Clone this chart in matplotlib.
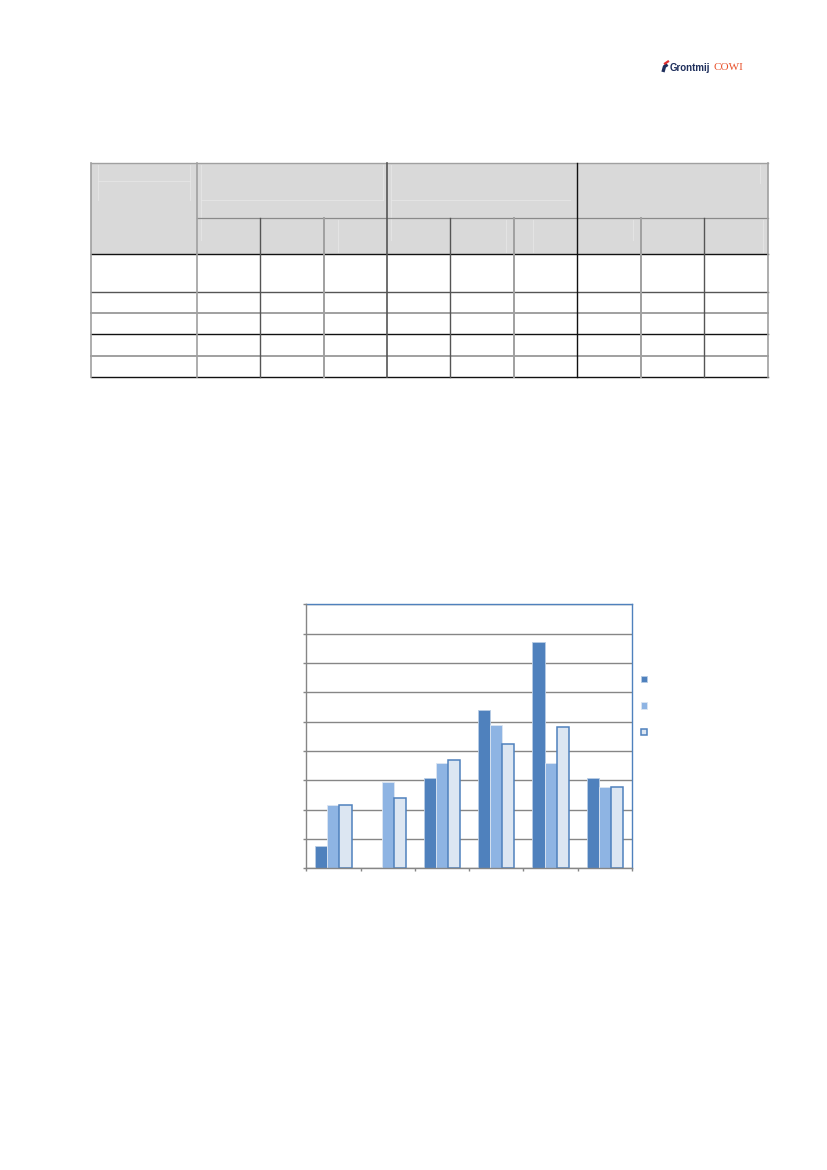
import numpy as np
import matplotlib
matplotlib.use("Agg")
import matplotlib.pyplot as plt
from matplotlib.patches import Rectangle, Patch

# chart values (in gridline units)
groups = [1, 2, 3, 4, 5, 6]
series_a = [0.75, 0.0, 3.07, 5.39, 7.71, 3.07]
series_b = [2.16, 2.94, 3.60, 4.89, 3.60, 2.76]
series_c = [2.15, 2.39, 3.68, 4.23, 4.81, 2.76]

# empty table grid on the page (pixel positions)
col_edges = [91, 196.7, 260.3, 323.7, 387.3, 450.3, 514, 577.3, 641, 704.3, 768]
row_edges = [162.7, 217.7, 254.3, 291.7, 312.7, 334.3, 355.7, 377.3]

W, H = 827, 1170
fig = plt.figure(figsize=(W / 100, H / 100), dpi=100)
fig.patch.set_facecolor("white")

page = fig.add_axes([0, 0, 1, 1])
page.set_xlim(0, W)
page.set_ylim(H, 0)
page.axis("off")

# logo
page.text(670, 68, "Grontmij", fontsize=7, fontweight="bold", color="#1f2f5c",
          family="Liberation Sans", va="center", ha="left")
page.text(713, 68, "COWI", fontsize=8, color="#e8502a",
          family="Liberation Serif", va="center", ha="left")
page.plot([663, 664.5, 667.5], [72, 66.5, 64.5], color="#1f2f5c", lw=2.4, solid_capstyle="butt")
page.plot([665, 668], [63.5, 61.5], color="#e03030", lw=1.6)

# table header fill
x0, x1 = col_edges[0], col_edges[-1]
page.add_patch(Rectangle((x0, row_edges[0]), x1 - x0, row_edges[2] - row_edges[0],
                         facecolor="#d9d9d9", edgecolor="none"))
# faint ghost lines in header
ghost = "#e6e6e6"
for (xa, xb, y) in [(98, 190, 181), (201, 383, 200), (391, 570, 200)]:
    page.plot([xa, xb], [y, y], color=ghost, lw=0.6)
for (x, ya, yb) in [(98, 165, 200), (190, 165, 200), (201, 165, 240), (383, 165, 200),
                    (391, 165, 240), (506, 220, 252), (533, 220, 252), (633, 220, 240),
                    (760, 165, 183), (763, 220, 252), (338, 220, 252)]:
    page.plot([x, x], [ya, yb], color=ghost, lw=0.6)

grey = "#a0a0a0"
dark = "#555555"
black = "#111111"

# horizontal rules
page.plot([x0, x1], [row_edges[0], row_edges[0]], color=grey, lw=1.0)
page.plot([col_edges[1], x1], [row_edges[1], row_edges[1]], color="#8a8a8a", lw=0.9)
h_styles = [(black, 1.0), (dark, 1.0), (grey, 1.4), (black, 1.0), (grey, 1.4), (black, 1.0)]
for y, (c, w) in zip(row_edges[2:], h_styles):
    page.plot([x0, x1], [y, y], color=c, lw=w)

# vertical rules
page.plot([x0, x0], [row_edges[0], row_edges[-1]], color=grey, lw=1.2)
page.plot([x1, x1], [row_edges[0], row_edges[-1]], color=grey, lw=1.2)
v_main = {1: (grey, 1.2), 4: (dark, 1.2), 7: (black, 1.0)}
for i, (c, w) in v_main.items():
    page.plot([col_edges[i], col_edges[i]], [row_edges[0], row_edges[-1]], color=c, lw=w)
v_sub = {2: (dark, 1.0), 3: (grey, 1.4), 5: (dark, 1.0), 6: (grey, 1.4), 8: (grey, 1.4), 9: (dark, 1.0)}
for i, (c, w) in v_sub.items():
    page.plot([col_edges[i], col_edges[i]], [row_edges[1], row_edges[-1]], color=c, lw=w)

# bar chart
left, right, top, bottom = 306.3, 632, 604.3, 868.3
ax = fig.add_axes([left / W, 1 - bottom / H, (right - left) / W, (bottom - top) / H])
ax.set_facecolor("white")

blue = "#4f81bd"
x = np.arange(len(groups)) + 0.5
bw = 0.222
ax.bar(x - bw, series_a, bw, color=blue, edgecolor="#b9cde5", linewidth=0.6, zorder=3)
ax.bar(x, series_b, bw, color="#8eb4e3", edgecolor="#dce6f2", linewidth=0.6, zorder=3)
ax.bar(x + bw, series_c, bw, color="#dce6f2", edgecolor=blue, linewidth=1.1, zorder=3)

ax.set_xlim(0, len(groups))
ax.set_ylim(0, 9)
ax.set_yticks(np.arange(0, 10))
ax.set_xticks(np.arange(0, len(groups) + 1))
ax.set_xticklabels([])
ax.set_yticklabels([])
ax.yaxis.grid(True, color="#868686", linewidth=1.0, zorder=0)
ax.set_axisbelow(True)
ax.tick_params(direction="out", length=2.5, width=1.0, color="#868686")
ax.tick_params(axis="y", right=False)
for s in ["left", "bottom"]:
    ax.spines[s].set_color("#868686")
    ax.spines[s].set_linewidth(1.0)
for s in ["top", "right"]:
    ax.spines[s].set_color(blue)
    ax.spines[s].set_linewidth(1.0)
ax.spines["left"].set_zorder(4)
ax.spines["bottom"].set_zorder(4)

handles = [Patch(facecolor=blue, edgecolor="#b9cde5", linewidth=0.6),
           Patch(facecolor="#8eb4e3", edgecolor="#dce6f2", linewidth=0.6),
           Patch(facecolor="#dce6f2", edgecolor=blue, linewidth=1.1)]
ax.legend(handles, [" ", " ", " "], loc="center left",
          bbox_to_anchor=((641 - left) / (right - left), 1 - (706 - top) / (bottom - top)),
          frameon=False, fontsize=7, handlelength=0.65, handleheight=0.65,
          labelspacing=1.68, borderpad=0, borderaxespad=0, handletextpad=0.2)

fig.savefig("out.png", dpi=100, facecolor="white")
